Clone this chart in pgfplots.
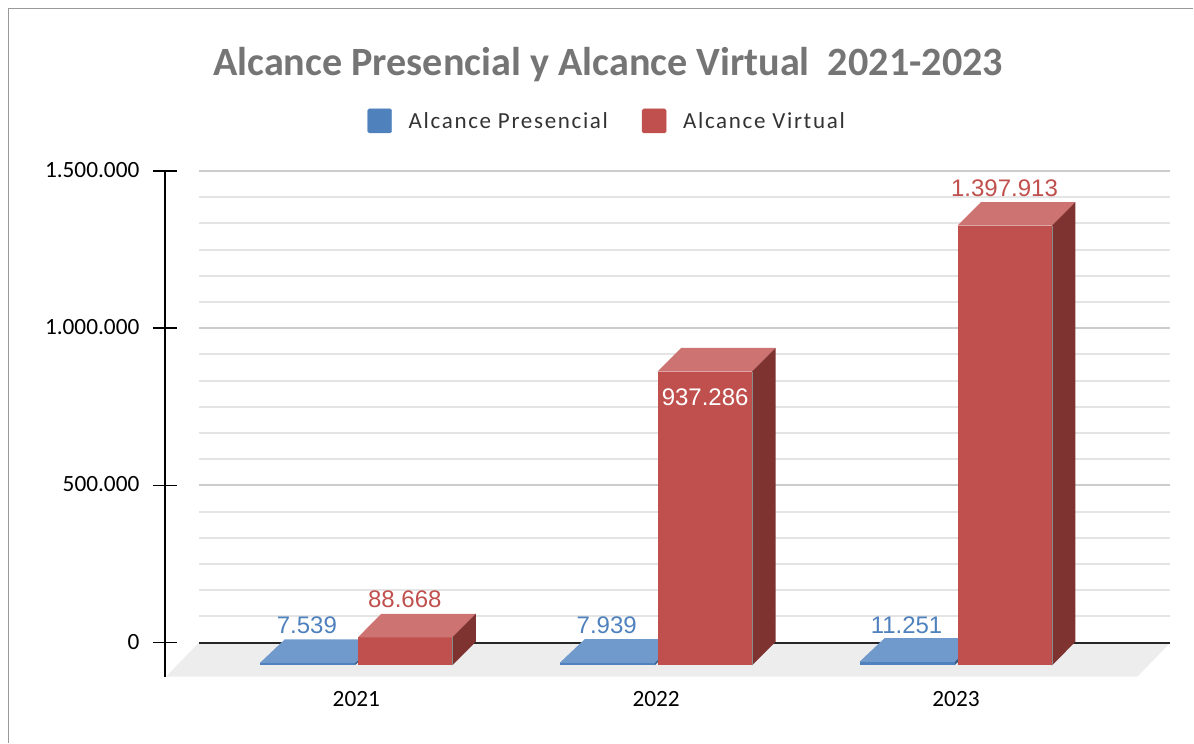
\documentclass[border=0pt]{standalone}
\usepackage{pgfplots}
\pgfplotsset{compat=1.18}
\usepackage{fontspec}
\setmainfont{Carlito}
\newfontfamily\libfont{Liberation Sans}
\newfontfamily\legfont[LetterSpace=7.3]{Carlito}
\definecolor{blueF}{HTML}{4F81BD}
\definecolor{blueT}{HTML}{7099CC}
\definecolor{blueS}{HTML}{3A5F8B}
\definecolor{redF}{HTML}{C0504D}
\definecolor{redT}{HTML}{CD7371}
\definecolor{redS}{HTML}{7F3331}
\definecolor{floorC}{HTML}{EDEDED}
\definecolor{gridMaj}{HTML}{CCCCCC}
\definecolor{gridMin}{HTML}{E4E4E4}
\definecolor{titleC}{HTML}{757575}
\begin{document}
\begin{tikzpicture}[x=1pt,y=1pt]
\path (0,0) rectangle (1194,743);
\draw[color=black!40,line width=1.2pt] (8.5,0) -- (8.5,734.5) -- (1194,734.5);
\begin{axis}[
  at={(165pt,66pt)}, anchor=south west,
  scale only axis, width=1006pt, height=506pt,
  xmin=165, xmax=1171, ymin=-108050, ymax=1500000,
  clip=false,
  axis y line=left, axis x line*=bottom,
  axis line style={-},
  y axis line style={black,line width=1.6pt},
  x axis line style={draw=none},
  xtick={356.5,656.5,956.5}, xticklabels={2021,2022,2023},
  xtick style={draw=none},
  ytick={0,500000,1000000,1500000},
  scaled y ticks=false,
  tick align=center,
  major tick length=24pt,
  ytick style={black,line width=1.4pt},
  /pgf/number format/fixed,
  /pgf/number format/1000 sep={.},
  /pgf/number format/assume math mode=true,
  y tick label style={font=\fontsize{23.3}{23.3}\selectfont,xshift=-10pt,yshift=1pt},
  x tick label style={font=\fontsize{23.3}{23.3}\selectfont,yshift=1pt},
  title={Alcance Presencial y Alcance Virtual\ \ 2021-2023},
  title style={font=\fontsize{40.2}{40.2}\selectfont\bfseries,text=titleC,at={(axis cs:608.5,1500000)},anchor=center,yshift=100pt},
  legend columns=2,
  legend style={draw=none,fill=none,at={(axis cs:607.5,1500000)},anchor=center,yshift=50pt,
    font=\fontsize{23}{23}\selectfont\legfont,text=black!80,
    /tikz/every even column/.append style={column sep=32pt}},
]
% floor
\addplot[fill=floorC,draw=none,forget plot] coordinates {(199,0) (1171,0) (1138,-108050) (166,-108050)} -- cycle;
% grid
\pgfplotsinvokeforeach{83333,166667,250000,333333,416667,583333,666667,750000,833333,916667,1083333,1166667,1250000,1333333,1416667}{
  \addplot[gridMin,line width=2pt,forget plot] coordinates {(199,#1) (1171,#1)};
}
\pgfplotsinvokeforeach{500000,1000000,1500000}{
  \addplot[gridMaj,line width=2pt,forget plot] coordinates {(199,#1) (1171,#1)};
}
\addplot[black!85,line width=1.7pt,forget plot] coordinates {(199,0) (1171,0)};
% Alcance Presencial: 7539, 7939, 11251
\addplot[fill=blueS,draw=none,forget plot] coordinates {(355,-72100) (380,3000) (380,10739) (355,-64561)} -- cycle;
\addplot[fill=blueT,draw=none,forget plot] coordinates {(260,-64561) (285,10739) (380,10739) (355,-64561)} -- cycle;
\addplot[fill=blueF,draw=none,forget plot] coordinates {(260,-72100) (355,-72100) (355,-64561) (260,-64561)} -- cycle;
\addplot[fill=blueS,draw=none,forget plot] coordinates {(655,-72100) (680,3000) (680,11139) (655,-64161)} -- cycle;
\addplot[fill=blueT,draw=none,forget plot] coordinates {(560,-64161) (585,11139) (680,11139) (655,-64161)} -- cycle;
\addplot[fill=blueF,draw=none,forget plot] coordinates {(560,-72100) (655,-72100) (655,-64161) (560,-64161)} -- cycle;
\addplot[fill=blueS,draw=none,forget plot] coordinates {(955,-72100) (980,3000) (980,14451) (955,-60849)} -- cycle;
\addplot[fill=blueT,draw=none,forget plot] coordinates {(860,-60849) (885,14451) (980,14451) (955,-60849)} -- cycle;
\addplot[fill=blueF,draw=none,forget plot] coordinates {(860,-72100) (955,-72100) (955,-60849) (860,-60849)} -- cycle;
% Alcance Virtual: 88668, 937286, 1397913
\addplot[fill=redF,draw=none,forget plot] coordinates {(358,-72100) (452.5,-72100) (452.5,16568) (358,16568)} -- cycle;
\addplot[fill=redT,draw=none,forget plot] coordinates {(358,16568) (452.5,16568) (476,91668) (381.5,91668)} -- cycle;
\addplot[fill=redS,draw=none,forget plot] coordinates {(452.5,-72100) (476,3000) (476,91668) (452.5,16568)} -- cycle;
\addplot[black!45,line width=0.6pt,forget plot] coordinates {(452.5,-72100) (452.5,16568)};
\addplot[fill=redF,draw=none,forget plot] coordinates {(658,-72100) (752.5,-72100) (752.5,862000) (658,862000)} -- cycle;
\addplot[fill=redT,draw=none,forget plot] coordinates {(658,862000) (752.5,862000) (776,937286) (681.5,937286)} -- cycle;
\addplot[fill=redS,draw=none,forget plot] coordinates {(752.5,-72100) (776,3000) (776,937286) (752.5,862000)} -- cycle;
\addplot[black!45,line width=0.6pt,forget plot] coordinates {(752.5,-72100) (752.5,862000)};
\addplot[fill=redF,draw=none,forget plot] coordinates {(958,-72100) (1052.5,-72100) (1052.5,1325813) (958,1325813)} -- cycle;
\addplot[fill=redT,draw=none,forget plot] coordinates {(958,1325813) (1052.5,1325813) (1076,1401113) (981.5,1401113)} -- cycle;
\addplot[fill=redS,draw=none,forget plot] coordinates {(1052.5,-72100) (1076,3000) (1076,1401113) (1052.5,1325813)} -- cycle;
\addplot[black!45,line width=0.6pt,forget plot] coordinates {(1052.5,-72100) (1052.5,1325813)};
% data labels
\addplot[draw=none,forget plot,point meta=explicit symbolic,nodes near coords,
  nodes near coords style={anchor=center,inner sep=0pt,text=blueF,font=\fontsize{24}{24}\selectfont\libfont}]
  coordinates {(307,54980)[7.539] (607,54980)[7.939] (907,54980)[11.251]};
\addplot[draw=none,forget plot,point meta=explicit symbolic,nodes near coords,
  nodes near coords style={anchor=center,inner sep=0pt,text=redF,font=\fontsize{24}{24}\selectfont\libfont}]
  coordinates {(405,136650)[88.668] (1005,1445990)[1.397.913]};
\addplot[draw=none,forget plot,point meta=explicit symbolic,nodes near coords,
  nodes near coords style={anchor=center,inner sep=0pt,text=white,font=\fontsize{24}{24}\selectfont\libfont}]
  coordinates {(705.5,781800)[937.286]};
% legend
\addlegendimage{legend image code/.code={\fill[blueF,rounded corners=1.5pt] (0pt,-12pt) rectangle (24pt,12pt);\path[draw=none] (0pt,0pt) -- (39pt,0pt);}}
\addlegendentry{Alcance Presencial}
\addlegendimage{legend image code/.code={\fill[redF,rounded corners=1.5pt] (0pt,-12pt) rectangle (24pt,12pt);\path[draw=none] (0pt,0pt) -- (39pt,0pt);}}
\addlegendentry{Alcance Virtual}
\end{axis}
\end{tikzpicture}
\end{document}
